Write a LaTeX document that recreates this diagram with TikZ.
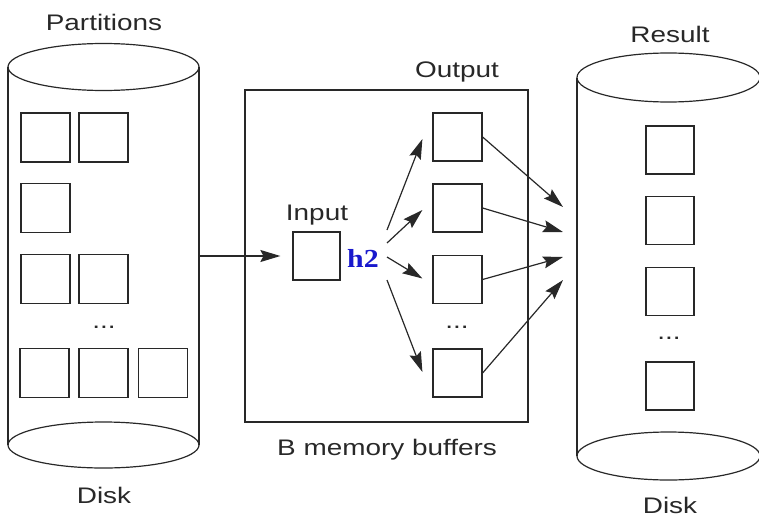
\documentclass[tikz,border=0pt]{standalone}
\usepackage{fontspec}
\setmainfont{Liberation Sans}
\newfontfamily\lblfont{Liberation Sans}[FakeStretch=1.24]
\newfontfamily\hfont{Liberation Serif}[FakeStretch=1.15]
\usetikzlibrary{arrows.meta}
\definecolor{ink}{RGB}{40,40,40}
\definecolor{hblue}{RGB}{25,25,205}
\begin{document}
\begin{tikzpicture}[x=1pt,y=-1pt,
  wire/.style={draw=ink, line width=1.2pt},
  buf/.style={wire, minimum width=49pt, minimum height=49pt, inner sep=0pt},
  lbl/.style={font=\lblfont\fontsize{22.5}{27}\selectfont, text=ink, anchor=base, inner sep=0pt},
  arr/.style={wire, -{Stealth[length=20pt,width=12pt,inset=3pt]}}]
\useasboundingbox (0,0) rectangle (759,519);

% source disk holding the partitions
\draw[wire] (103.5,67) ellipse [x radius=95.5, y radius=23.5];
\draw[wire] (8,67) -- (8,445) (199,67) -- (199,445);
\draw[wire] (103.5,445) ellipse [x radius=95.5, y radius=23];
\node[lbl] (partitions) at (104,31) {Partitions};
\node[lbl] (diskL) at (104,503) {Disk};
\node[buf] (p1) at (45.5,137.5) {};
\node[buf] (p2) at (103.5,137.5) {};
\node[buf] (p3) at (45.5,208) {};
\node[buf] (p4) at (45.5,279) {};
\node[buf] (p5) at (103.5,279) {};
\node[lbl] (pdots) at (104,328) {...};
\node[buf] (p6) at (44.5,373) {};
\node[buf] (p7) at (103.5,373) {};
\node[buf] (p8) at (163,373) {};
\coordinate (diskLout) at (199,256);

% memory buffers
\node[wire, minimum width=283pt, minimum height=332pt, inner sep=0pt] (mem) at (386.5,256) {};
\node[lbl] (memlbl) at (387,455) {B memory buffers};
\node[buf, minimum width=47pt, minimum height=48pt] (in) at (316.5,256) {};
\node[lbl] (inlbl) at (317,220) {Input};
\node[font=\hfont\bfseries\fontsize{26}{30}\selectfont, text=hblue, anchor=base, inner sep=0pt] (h2) at (363,267) {h2};
\coordinate (hsrc) at (387,257);
\node[lbl] (outlbl) at (457,77) {Output};
\node[buf, minimum height=48pt] (o1) at (457.5,137) {};
\node[buf, minimum height=48pt] (o2) at (457.5,208) {};
\node[buf, minimum height=48pt] (o3) at (457.5,279.5) {};
\node[lbl] (odots) at (457,328) {...};
\node[buf, minimum height=48pt] (o4) at (457.5,373) {};

% result disk
\draw[wire] (668.5,77.5) ellipse [x radius=91.5, y radius=24.5];
\draw[wire] (577,77.5) -- (577,456) (760,77.5) -- (760,456);
\draw[wire] (668.5,456) ellipse [x radius=91.5, y radius=24];
\node[lbl] (result) at (670,43) {Result};
\node[lbl] (diskR) at (670,513) {Disk};
\node[buf, minimum width=48pt, minimum height=48pt] (r1) at (670,150) {};
\node[buf, minimum width=48pt, minimum height=48pt] (r2) at (670,220.5) {};
\node[buf, minimum width=48pt, minimum height=48pt] (r3) at (670,291.5) {};
\node[lbl] (rdots) at (669,339) {...};
\node[buf, minimum width=48pt, minimum height=48pt] (r4) at (670,386) {};
\coordinate (res) at (563,244);

% data flow
\draw[arr] (diskLout) -- ([xshift=-12pt]in.west);
\draw[arr] ([yshift=27pt]hsrc) -- ([xshift=-10pt,yshift=-2pt]o1.west);
\draw[arr] ([yshift=14pt]hsrc) -- ([xshift=-10pt,yshift=-2pt]o2.west);
\draw[arr] (hsrc) -- ([xshift=-10pt,yshift=1pt]o3.west);
\draw[arr] ([yshift=-23pt]hsrc) -- ([xshift=-10pt,yshift=1pt]o4.west);
\draw[arr] (o1.east) -- ([yshift=37pt]res);
\draw[arr] (o2.east) -- ([yshift=12pt]res);
\draw[arr] (o3.east) -- ([yshift=-13pt]res);
\draw[arr] (o4.east) -- ([yshift=-36pt]res);
\end{tikzpicture}
\end{document}
